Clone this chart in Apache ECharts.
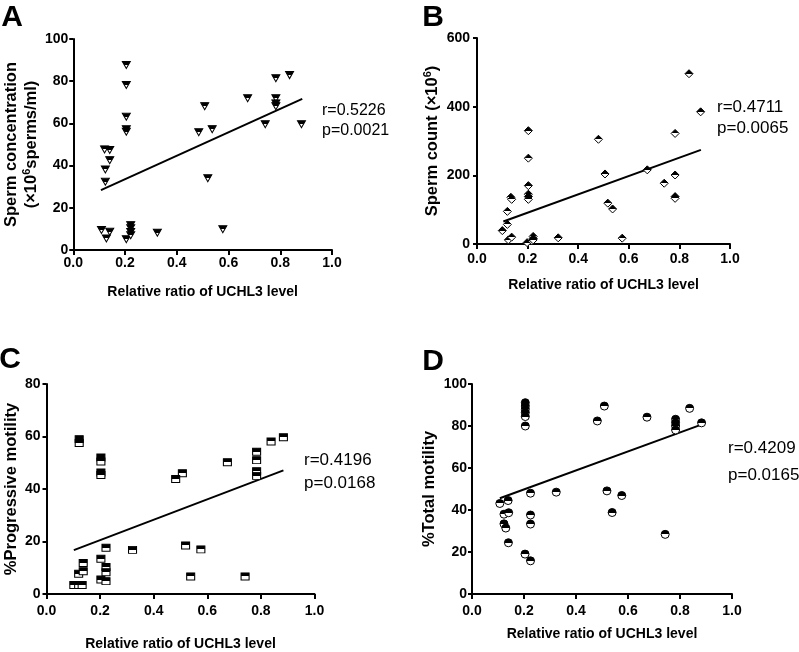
<!DOCTYPE html>
<html><head><meta charset="utf-8">
<script src="https://cdn.jsdelivr.net/npm/echarts@6/dist/echarts.min.js"></script>
<style>html,body{margin:0;padding:0;background:#fff}#c{width:799px;height:652px}</style>
</head><body><div id="c"></div>
<script>
// ---------- data ----------
const panelLetters = ['A', 'B', 'C', 'D'];
const xTitle = 'Relative ratio of UCHL3 level';
const yTitles = ['{b|Sperm concentration}\n{b|(×10}{s|6}{b|sperms/ml)}', '{b|Sperm count (×10}{s|6}{b|)}', '%Progressive motility', '%Total motility'];
const xTickLabels = ['0.0', '0.2', '0.4', '0.6', '0.8', '1.0'];
const yMax = [100, 600, 80, 100];
const yStep = [20, 200, 20, 20];
const statR = ['r=0.5226', 'r=0.4711', 'r=0.4196', 'r=0.4209'];
const statP = ['p=0.0021', 'p=0.0065', 'p=0.0168', 'p=0.0165'];

const aX = [0.109,0.141,0.128,0.121,0.141,0.141,0.124,0.124, 0.205,0.205,0.205,0.205,0.205,0.205, 0.222,0.222,0.222,0.222, 0.325, 0.578,0.52,0.485,0.508,0.537,0.674,0.742,0.783,0.783,0.783,0.783,0.836,0.882];
const aY = [9.5,8.7,5.5,47.7,47.4,42.6,38.2,32.4, 87.7,78.2,63.2,57.2,56.1,5.1, 11.8,10.3,8.5,7.0, 8.2, 9.8,34,55.8,68.2,57.3,71.9,59.6,81.4,71.9,69.5,68.2,82.9,59.6];
const bX = [0.1,0.12,0.12,0.124,0.134,0.137,0.137, 0.203,0.203,0.203,0.203,0.203,0.203,0.198, 0.222,0.222,0.218,0.222, 0.321, 0.838,0.884,0.783,0.48,0.506,0.673,0.783,0.74,0.783,0.783,0.517,0.536,0.574];
const bY = [39,95,57,12,136,130,20, 330,250,170,145,138,130,4, 22,16,9,12, 18, 496,385,322,305,204,216,201,177,138,133,119,102,17];
const cX = [0.122,0.122,0.102,0.12,0.133,0.12,0.137,0.137, 0.203,0.203,0.203,0.203,0.203,0.203, 0.222,0.222,0.222,0.222, 0.321, 0.884,0.838,0.784,0.784,0.784,0.784,0.675,0.507,0.482,0.519,0.576,0.538,0.741];
const cY = [59,57.5,3.4,3.4,3.4,7.7,11.8,8.7, 52,50.5,46.3,45.3,13.4,5.5, 17.6,10.3,8.3,4.9, 16.8, 59.7,58.1,54.2,51,46.8,45,50.2,46,43.8,18.5,17,6.7,6.7];
const dX = [0.107,0.123,0.123,0.13,0.139,0.141,0.14, 0.205,0.205,0.205,0.205,0.205,0.205,0.204, 0.225,0.225,0.225,0.225, 0.324, 0.482,0.509,0.519,0.539,0.576,0.673,0.743,0.783,0.783,0.783,0.783,0.837,0.883];
const dY = [43.1,38.0,33.4,31.4,44.5,38.7,24.4, 91.1,89.5,88,86.4,84.5,80,19, 15.8,37.6,33.3,48, 48.5, 82.4,89.5,49.1,38.8,46.9,84.2,28.4,83.2,81.6,80.0,78.1,88.4,81.5];

const fitX = [[0.107, 0.885], [0.104, 0.885], [0.102, 0.884], [0.107, 0.885]];
const fitY = [[28.4, 71.6], [65.6, 274], [16.7, 47.1], [45.6, 80.8]];

// ---------- layout / style ----------
const grids = [
  {left: 70, top: 39, width: 262, height: 211},
  {left: 477, top: 38, width: 253, height: 206},
  {left: 46.5, top: 384, width: 268, height: 219},
  {left: 472, top: 384, width: 260, height: 210}
];
const font = "'Liberation Sans',Arial,sans-serif";
const xLabelMargin = [6, 8, 10, 10];
const xNameGap = [35, 34, 43, 33];
const yLabelMargin = [5, 7, 6, 5];
const yNameGap = [28, 25, 24, 24];
const symbols = ['path://M0,0L10,0L5,9Z', 'diamond', 'rect', 'circle'];
const symSizes = [[8, 7], [8, 8], [8, 7], 8];
const xs = [aX, bX, cX, dX], ys = [aY, bY, cY, dY];

const chart = echarts.init(document.getElementById('c'), null, {renderer: 'canvas'});
const half = () => new echarts.graphic.LinearGradient(0, 0, 0, 1, [
  {offset: 0, color: '#000'}, {offset: 0.5, color: '#000'},
  {offset: 0.5, color: '#fff'}, {offset: 1, color: '#fff'}]);

const xAxis = [], yAxis = [], series = [];
for (let i = 0; i < 4; i++) {
  xAxis.push({
    type: 'value', gridIndex: i, min: 0, max: 1, interval: 0.2,
    axisLine: {lineStyle: {color: '#000', width: 2}},
    axisTick: {length: 5, lineStyle: {color: '#000', width: 2}},
    splitLine: {show: false},
    axisLabel: {margin: xLabelMargin[i], color: '#000', fontWeight: 'bold', fontSize: 14, fontFamily: font,
      formatter: v => xTickLabels[Math.round(v / 0.2)]},
    name: xTitle, nameLocation: 'middle', nameGap: xNameGap[i],
    nameTextStyle: {color: '#000', fontWeight: 'bold', fontSize: 14, fontFamily: font}
  });
  yAxis.push({
    type: 'value', gridIndex: i, min: 0, max: yMax[i], interval: yStep[i],
    axisLine: {lineStyle: {color: '#000', width: 2}},
    axisTick: {length: 4, lineStyle: {color: '#000', width: 2}},
    splitLine: {show: false},
    axisLabel: {margin: yLabelMargin[i], color: '#000', fontWeight: 'bold', fontSize: 14, fontFamily: font},
    name: yTitles[i], nameLocation: 'middle', nameGap: yNameGap[i],
    nameTextStyle: {color: '#000', fontWeight: 'bold', fontSize: 16.5, fontFamily: font, lineHeight: 20,
      rich: {
        b: {fontSize: 16.5, fontWeight: 'bold', fontFamily: font, lineHeight: 20, color: '#000'},
        s: {fontSize: 11, fontWeight: 'bold', fontFamily: font, verticalAlign: 'top', lineHeight: 20, color: '#000'}
      }}
  });
  series.push({
    type: 'scatter', xAxisIndex: i, yAxisIndex: i,
    data: xs[i].map((x, k) => [x, ys[i][k]]),
    symbol: symbols[i], symbolSize: symSizes[i],
    itemStyle: {color: half(), borderColor: '#000', borderWidth: 1, opacity: 1},
    z: 3, silent: true
  });
  series.push({
    type: 'line', xAxisIndex: i, yAxisIndex: i,
    data: fitX[i].map((x, k) => [x, fitY[i][k]]),
    showSymbol: false, symbol: 'none',
    lineStyle: {color: '#000', width: 2}, z: 2, silent: true
  });
}

const letterPos = [[12, 17.5], [433, 17.5], [10, 360], [433, 361.5]];
const statPos = [[322, 111, 131, 16], [717, 107, 128, 17], [304, 460, 483, 17], [728, 448, 475, 17]];
const graphic = [];
for (let i = 0; i < 4; i++) {
  graphic.push({type: 'text', x: letterPos[i][0], y: letterPos[i][1],
    style: {text: panelLetters[i], fill: '#000', font: 'bold 30px ' + font, textAlign: 'center', textVerticalAlign: 'middle'}});
  graphic.push({type: 'text', x: statPos[i][0], y: statPos[i][1],
    style: {text: statR[i], fill: '#000', font: statPos[i][3] + 'px ' + font, textAlign: 'left', textVerticalAlign: 'middle'}});
  graphic.push({type: 'text', x: statPos[i][0], y: statPos[i][2],
    style: {text: statP[i], fill: '#000', font: statPos[i][3] + 'px ' + font, textAlign: 'left', textVerticalAlign: 'middle'}});
}

chart.setOption({
  animation: false,
  backgroundColor: '#fff',
  grid: grids,
  xAxis, yAxis, series, graphic
});
</script>
</body></html>
